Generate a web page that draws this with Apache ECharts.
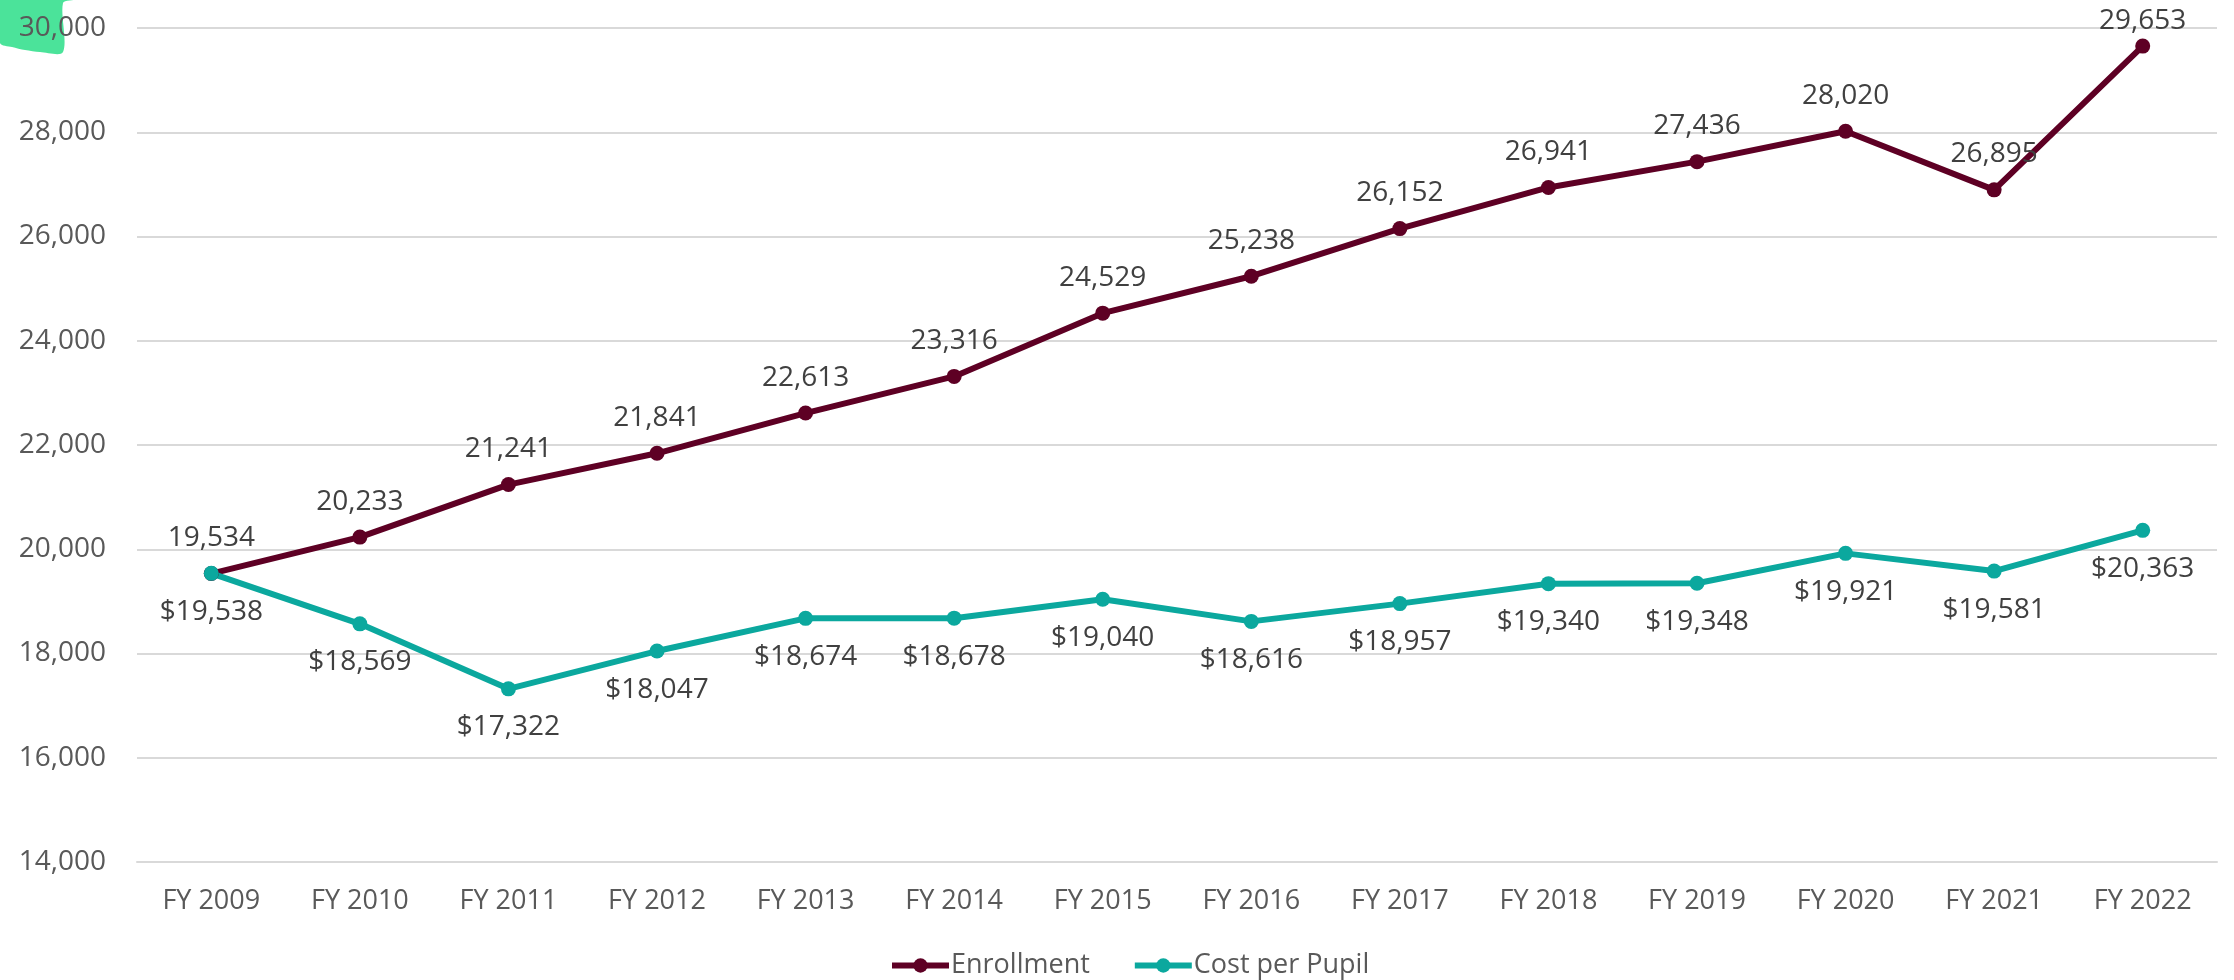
<!DOCTYPE html>
<html>
<head>
<meta charset="utf-8">
<title>Enrollment and Cost per Pupil</title>
<script src="https://cdn.jsdelivr.net/npm/echarts@6/dist/echarts.min.js"></script>
<style>
  html, body { margin: 0; padding: 0; background: #fff; }
  #chart { width: 2234px; height: 980px; }
</style>
</head>
<body>
<div id="chart"></div>
<script>
const years = ['FY 2009', 'FY 2010', 'FY 2011', 'FY 2012', 'FY 2013', 'FY 2014', 'FY 2015',
  'FY 2016', 'FY 2017', 'FY 2018', 'FY 2019', 'FY 2020', 'FY 2021', 'FY 2022']
const enrollment = [19534, 20233, 21241, 21841, 22613, 23316, 24529, 25238, 26152, 26941, 27436, 28020, 26895, 29653]
const costPerPupil = [19538, 18569, 17322, 18047, 18674, 18678, 19040, 18616, 18957, 19340, 19348, 19921, 19581, 20363]

const FONT = '"Open Sans", "Noto Sans", sans-serif'
const fmt = v => v.toLocaleString('en-US')

const chart = echarts.init(document.getElementById('chart'))

// last enrollment label sits lower because it hits the top of the plot
const enrollData = enrollment.map((v, i) => (i === enrollment.length - 1
  ? { value: v, label: { distance: 4 } }
  : v))

chart.setOption({
  animation: false,
  backgroundColor: '#fff',
  graphic: [
    {
      // green blob peeking in at the top-left corner
      type: 'polygon',
      z: -1,
      shape: {
        points: [[0, 0], [75, 0], [63, 3], [63, 52], [40, 52], [25, 50], [12, 47], [0, 43]],
        smooth: 0.3,
      },
      style: { fill: '#4BE39A' },
    },
  ],
  grid: { left: 137, right: 17, top: 28, bottom: 118 },
  legend: {
    left: 884,
    top: 947,
    itemWidth: 57,
    itemHeight: 18,
    itemGap: 42,
    lineStyle: { width: 6 },
    textStyle: { fontFamily: FONT, fontSize: 27, color: '#595959', padding: [0, 0, 0, -3] },
    data: ['Enrollment', 'Cost per Pupil'],
  },
  xAxis: {
    type: 'category',
    data: years,
    axisLine: { show: true, lineStyle: { color: '#D9D9D9', width: 2 } },
    axisTick: { show: false },
    axisLabel: { fontFamily: FONT, fontSize: 27, color: '#595959', margin: 26 },
  },
  yAxis: {
    type: 'value',
    min: 14000,
    max: 30000,
    interval: 2000,
    axisLine: { show: false },
    axisTick: { show: false },
    splitLine: { lineStyle: { color: '#D9D9D9', width: 2 } },
    axisLabel: { fontFamily: FONT, fontSize: 28, color: '#595959', margin: 31, formatter: fmt },
  },
  series: [
    {
      name: 'Enrollment',
      type: 'line',
      data: enrollData,
      color: '#5E0024',
      symbol: 'circle',
      symbolSize: 15,
      lineStyle: { width: 6 },
      label: {
        show: true,
        position: 'top',
        distance: 14,
        fontFamily: FONT,
        fontSize: 28,
        color: '#404040',
        formatter: p => fmt(p.value),
      },
    },
    {
      name: 'Cost per Pupil',
      type: 'line',
      data: costPerPupil,
      color: '#0BA89E',
      symbol: 'circle',
      symbolSize: 15,
      lineStyle: { width: 6 },
      label: {
        show: true,
        position: 'bottom',
        distance: 17,
        fontFamily: FONT,
        fontSize: 28,
        color: '#404040',
        formatter: p => '$' + fmt(p.value),
      },
    },
  ],
})
</script>
</body>
</html>
